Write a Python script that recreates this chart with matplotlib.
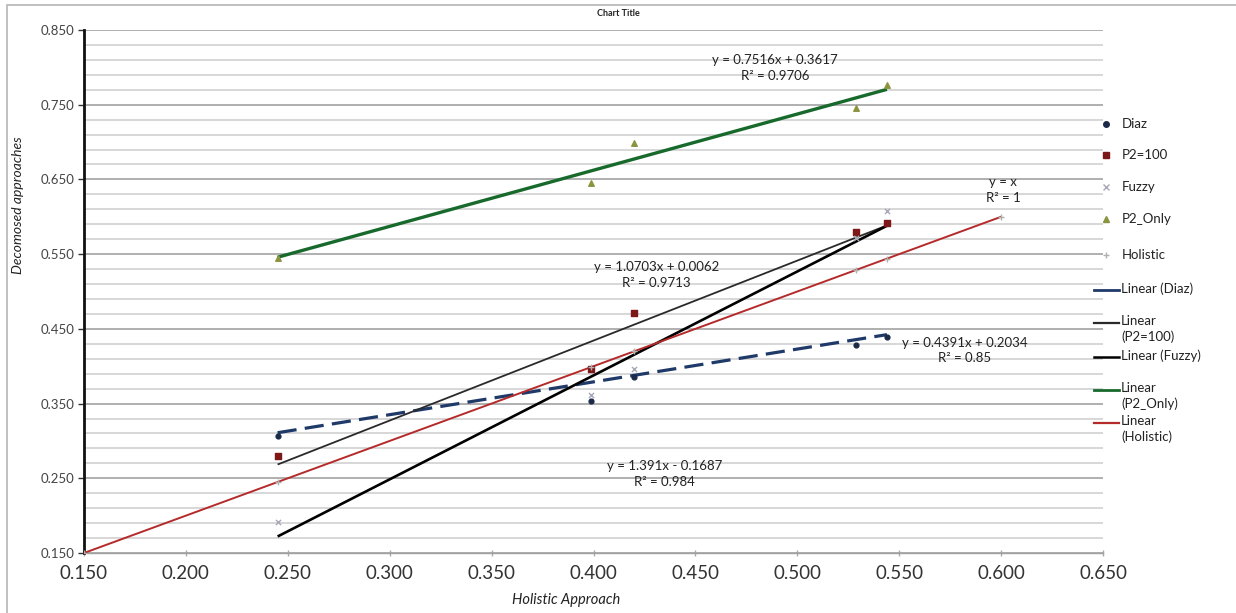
import matplotlib
matplotlib.use("Agg")
import matplotlib.pyplot as plt
import numpy as np
from matplotlib.lines import Line2D
from matplotlib.patches import Rectangle

plt.rcParams['font.family'] = ['Lato', 'DejaVu Sans']

# ---- data ----
x_vals = [0.245, 0.399, 0.420, 0.529, 0.544]
diaz = [0.306, 0.353, 0.386, 0.429, 0.439]
p2_100 = [0.280, 0.396, 0.471, 0.580, 0.592]
fuzzy = [0.191, 0.361, 0.396, 0.572, 0.608]
p2_only = [0.545, 0.645, 0.699, 0.746, 0.776]
holistic_x = [0.150, 0.245, 0.399, 0.420, 0.529, 0.544, 0.600]
holistic_y = [0.150, 0.245, 0.399, 0.420, 0.529, 0.544, 0.600]

series_names = ['Diaz', 'P2=100', 'Fuzzy', 'P2_Only', 'Holistic']
trend_slopes = [0.4391, 1.0703, 1.391, 0.7516, 1.0]
trend_intercepts = [0.2034, 0.0062, -0.1687, 0.3617, 0.0]
trend_labels = ['y = 0.4391x + 0.2034\nR² = 0.85',
                'y = 1.0703x + 0.0062\nR² = 0.9713',
                'y = 1.391x - 0.1687\nR² = 0.984',
                'y = 0.7516x + 0.3617\nR² = 0.9706',
                'y = x\nR² = 1']
x_ticks = [0.150, 0.200, 0.250, 0.300, 0.350, 0.400, 0.450, 0.500, 0.550, 0.600, 0.650]
y_ticks = [0.150, 0.250, 0.350, 0.450, 0.550, 0.650, 0.750, 0.850]

W, H = 1236, 613
fig = plt.figure(figsize=(W / 100, H / 100), dpi=100)
ax = fig.add_axes([84 / W, 1 - 553 / H, (1103 - 84) / W, (553 - 30) / H])

# chart area border
fig.add_artist(Rectangle((7 / W, -0.01), 1.0, 1 - 5 / H + 0.01, transform=fig.transFigure,
                         fill=False, edgecolor='#b5b5b5', linewidth=1.2))

ax.set_xlim(0.150, 0.650)
ax.set_ylim(0.150, 0.850)

# gridlines
minor_y = np.arange(0.150, 0.8501, 0.02)
ax.set_yticks(minor_y, minor=True)
ax.set_yticks(y_ticks)
ax.grid(axis='y', which='minor', color='#cdcdcd', linewidth=1.1)
ax.grid(axis='y', which='major', color='#a2a2a2', linewidth=1.2)
ax.set_axisbelow(True)
ax.tick_params(axis='y', which='minor', length=0)
ax.tick_params(axis='y', which='major', length=4, width=1, color='#333333',
               labelsize=9.5, labelcolor='#444444', pad=3)
ax.set_yticklabels([f'{v:.3f}' for v in y_ticks])
ax.set_xticks(x_ticks)
ax.set_xticklabels([f'{v:.3f}' for v in x_ticks])
ax.tick_params(axis='x', which='major', length=5, width=1, color='#aaaaaa', direction='inout',
               labelsize=13.5, labelcolor='#333333', pad=6)

for s in ['top', 'right']:
    ax.spines[s].set_visible(False)
ax.spines['left'].set_linewidth(2.0)
ax.spines['left'].set_color('#111111')
ax.spines['bottom'].set_linewidth(1.0)
ax.spines['bottom'].set_color('#a0a0a0')

# trendlines
series_x = [x_vals, x_vals, x_vals, x_vals, holistic_x]
trend_styles = [
    dict(color='#1f3a68', lw=2.3, dashes=(6, 2.6)),
    dict(color='#2a2a2a', lw=1.3),
    dict(color='#000000', lw=1.9),
    dict(color='#17692c', lw=2.4),
    dict(color='#b52a2a', lw=1.4),
]
for xs, m, b, st in zip(series_x, trend_slopes, trend_intercepts, trend_styles):
    xr = np.array([min(xs), max(xs)])
    ax.plot(xr, m * xr + b, solid_capstyle='butt', zorder=3, **st)

# markers
ax.scatter(x_vals, diaz, marker='o', s=12, color='#1c2a4a', zorder=4)
ax.scatter(x_vals, p2_100, marker='s', s=18, color='#7d1818', zorder=4)
ax.scatter(x_vals, fuzzy, marker='x', s=14, color='#a8a8b8', linewidths=1.0, zorder=4)
ax.scatter(x_vals, p2_only, marker='^', s=16, color='#8c9440', zorder=4)
ax.scatter(holistic_x, holistic_y, marker='+', s=14, color='#b0b0b0', linewidths=1.0, zorder=4)

# trendline equations
eq_pos = [(0.582, 0.421), (0.431, 0.522), (0.435, 0.256), (0.489, 0.799), (0.601, 0.636)]
for (ex, ey), txt in zip(eq_pos, trend_labels):
    ax.text(ex, ey, txt, ha='center', va='center', fontsize=9.5, color='#222222',
            linespacing=1.35, zorder=5)

# titles
fig.text(618 / W, 1 - 14 / H, 'Chart Title', ha='center', va='center', fontsize=6.5,
         fontweight='bold', color='#222222')
fig.text(566 / W, 1 - 600 / H, 'Holistic Approach', ha='center', va='center', fontsize=10.5,
         style='italic', color='#222222')
fig.text(18 / W, 1 - 205 / H, 'Decomosed approaches', ha='center', va='center', fontsize=10,
         style='italic', rotation=90, color='#222222')

# legend (manual, right side)
marker_entries = [('Diaz', 'o', '#1c2a4a', 124), ('P2=100', 's', '#7d1818', 155),
                  ('Fuzzy', 'x', '#a8a8b8', 187), ('P2_Only', '^', '#8c9440', 219),
                  ('Holistic', '+', '#b0b0b0', 255)]
for lab, mk, col, py in marker_entries:
    fig.add_artist(Line2D([1106 / W], [1 - py / H], marker=mk, color=col, markersize=4,
                          linestyle='none', transform=fig.transFigure))
    fig.text(1122 / W, 1 - py / H, lab, ha='left', va='center', fontsize=9.5, color='#222222')

line_entries = [('Linear (Diaz)', '#1f3a68', 2.0, 290), ('Linear\n(P2=100)', '#2a2a2a', 1.6, 323),
                ('Linear (Fuzzy)', '#000000', 1.8, 357), ('Linear\n(P2_Only)', '#17692c', 2.0, 390),
                ('Linear\n(Holistic)', '#b52a2a', 1.6, 423)]
for lab, col, lw, py in line_entries:
    fig.add_artist(Line2D([1094 / W, 1119 / W], [1 - py / H, 1 - py / H], color=col, lw=lw,
                          transform=fig.transFigure))
    fig.text(1121 / W, 1 - (py - 8) / H, lab, ha='left', va='top', fontsize=9.5,
             color='#222222', linespacing=1.35)

fig.savefig('out.png', dpi=100)
